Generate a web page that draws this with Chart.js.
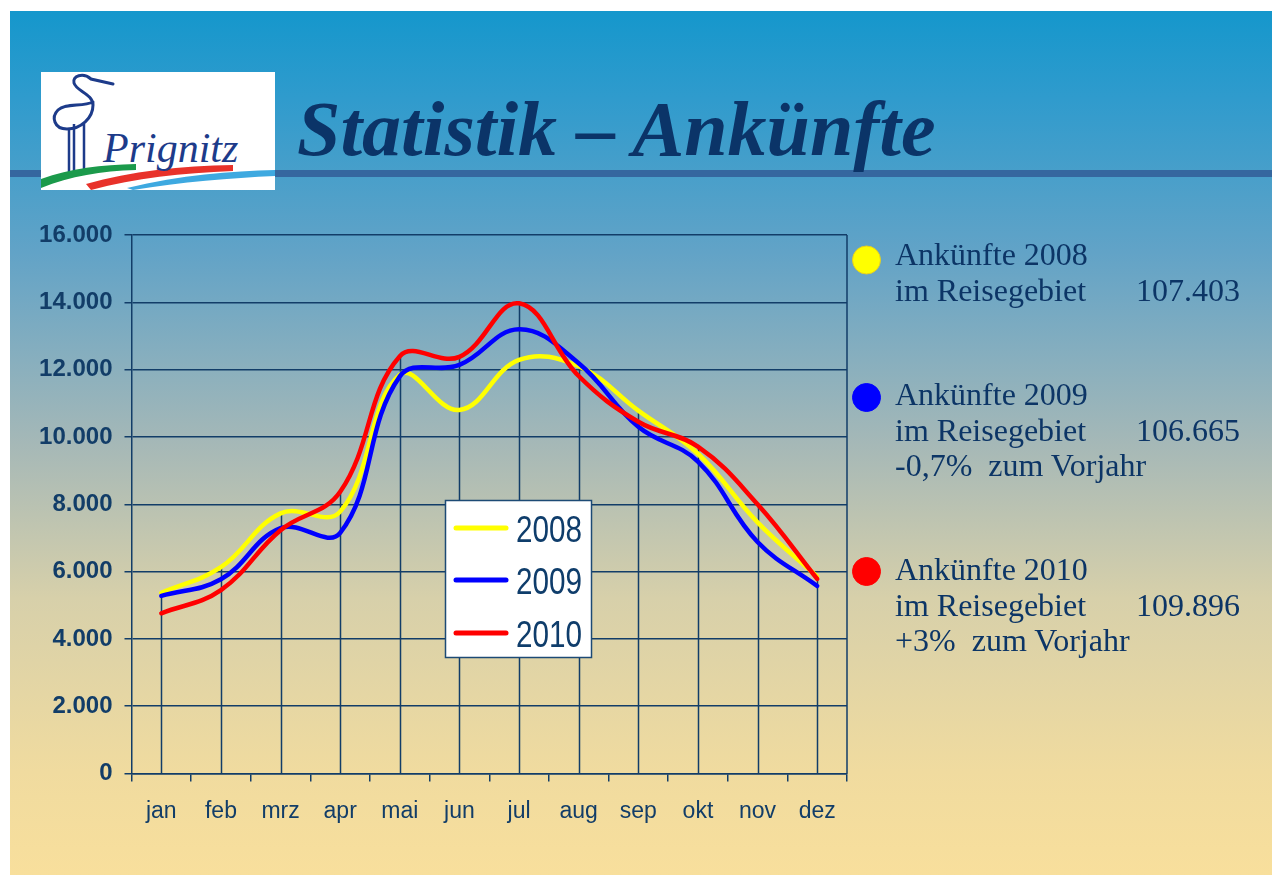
<!DOCTYPE html>
<html>
<head>
<meta charset="utf-8">
<script src="https://cdn.jsdelivr.net/npm/chart.js@4.4.1/dist/chart.umd.min.js"></script>
<style>
  html, body { margin: 0; padding: 0; background: #ffffff; }
  body { width: 1272px; height: 875px; position: relative; overflow: hidden; }
  #slide {
    position: absolute; left: 10px; top: 11px; width: 1262px; height: 864px;
    background: linear-gradient(to bottom,
      #1597cc 0%, #2f9bcd 10%, #62a3c7 28%, #a5b8b7 50%, #d7d0aa 68%, #f0db9f 88%, #f8df9c 100%);
  }
  #band { position: absolute; left: 10px; top: 170px; width: 1262px; height: 7px; background: #35679f; }
  #chartCanvas { position: absolute; left: 0; top: 0; }
  #overlay { position: absolute; left: 0; top: 0; pointer-events: none; }
</style>
</head>
<body>
<div id="slide"></div>
<div id="band"></div>
<canvas id="chartCanvas" width="1272" height="875"></canvas>
<svg id="overlay" width="1272" height="875" xmlns="http://www.w3.org/2000/svg"></svg>
<script>
// ---------- data ----------
const months = ['jan','feb','mrz','apr','mai','jun','jul','aug','sep','okt','nov','dez'];
const seriesNames = ['2008','2009','2010'];
const arrivals2008 = [5370, 6130, 7730, 7780, 11850, 10800, 12290, 12100, 10780, 9500, 7460, 5850];
const arrivals2009 = [5280, 5770, 7290, 7150, 11800, 12140, 13200, 12190, 10300, 9270, 6880, 5570];
const arrivals2010 = [4760, 5450, 7230, 8370, 12400, 12380, 13970, 11810, 10450, 9710, 8000, 5780];
const yTickValues = [0, 2000, 4000, 6000, 8000, 10000, 12000, 14000, 16000];
const yTickLabels = ['0', '2.000', '4.000', '6.000', '8.000', '10.000', '12.000', '14.000', '16.000'];
const panelTitles = ['Ankünfte 2008', 'Ankünfte 2009', 'Ankünfte 2010'];
const panelTotals = ['107.403', '106.665', '109.896'];
const panelChanges = ['', '-0,7%  zum Vorjahr', '+3%  zum Vorjahr'];
const titleText = 'Statistik – Ankünfte';

// ---------- styles ----------
const navy = '#123d68';
const seriesColors = ['#ffff00', '#0000ff', '#ff0000'];

const dropLines = {
  id: 'dropLines',
  beforeDatasetsDraw(chart) {
    const { ctx, chartArea, scales } = chart;
    const x = scales.x, y = scales.y;
    ctx.save();
    ctx.strokeStyle = navy;
    ctx.lineWidth = 1.5;
    months.forEach((m, i) => {
      const maxV = Math.max(...chart.data.datasets.map(d => d.data[i]));
      const px = Math.round(x.getPixelForValue(i)) + 0.5;
      ctx.beginPath();
      ctx.moveTo(px, y.getPixelForValue(maxV));
      ctx.lineTo(px, chartArea.bottom);
      ctx.stroke();
    });
    ctx.beginPath();
    ctx.moveTo(chartArea.right, chartArea.top);
    ctx.lineTo(chartArea.right, chartArea.bottom);
    ctx.stroke();
    ctx.restore();
  }
};

const chart = new Chart(document.getElementById('chartCanvas'), {
  type: 'line',
  data: {
    labels: months,
    datasets: [
      { label: seriesNames[0], data: arrivals2008, borderColor: seriesColors[0], order: 2 },
      { label: seriesNames[1], data: arrivals2009, borderColor: seriesColors[1], order: 1 },
      { label: seriesNames[2], data: arrivals2010, borderColor: seriesColors[2], order: 0 }
    ]
  },
  options: {
    responsive: false,
    animation: false,
    devicePixelRatio: 1,
    layout: { padding: { left: 0, top: 235, right: 425, bottom: 41.5 } },
    plugins: { legend: { display: false }, tooltip: { enabled: false } },
    elements: {
      point: { radius: 0, hoverRadius: 0 },
      line: { borderWidth: 4.5, tension: 0.4, fill: false, borderCapStyle: 'round', borderJoinStyle: 'round' }
    },
    scales: {
      x: {
        offset: true,
        grid: { offset: true, drawOnChartArea: false, drawTicks: true, tickLength: 8, color: navy, lineWidth: 1.5 },
        border: { color: navy, width: 1.5 },
        ticks: { color: navy, font: { family: '"Liberation Sans", Arial, sans-serif', size: 23 }, padding: 16, maxRotation: 0, autoSkip: false },
        afterFit(s) { s.height = 60; }
      },
      y: {
        min: 0, max: 16000,
        afterBuildTicks(s) { s.ticks = yTickValues.map(v => ({ value: v })); },
        grid: { color: navy, lineWidth: 1.5, tickLength: 7 },
        border: { color: navy, width: 1.5 },
        ticks: {
          color: navy,
          font: { family: '"Liberation Sans", Arial, sans-serif', size: 24, weight: 'bold' },
          padding: 12,
          callback: (v, i) => yTickLabels[i]
        },
        afterFit(s) { s.width = 131.5; }
      }
    }
  },
  plugins: [dropLines]
});

// ---------- overlay (title, logo, legend, side panel) ----------
const NS = 'http://www.w3.org/2000/svg';
const svg = document.getElementById('overlay');
function el(tag, attrs, text, parent) {
  const e = document.createElementNS(NS, tag);
  for (const k in attrs) e.setAttribute(k, attrs[k]);
  if (text !== undefined && text !== null) e.textContent = text;
  (parent || svg).appendChild(e);
  return e;
}

// logo
const logo = el('g', { transform: 'translate(41,72)' });
el('rect', { x: 0, y: 0, width: 234, height: 118, fill: '#ffffff' }, null, logo);
el('path', { d: 'M 72,12 L 50,7 C 42,0 31,4 33,11 C 35,19 52,22 52,33 C 52,46 40,57 26,57 C 13,57 10,45 17,38 C 24,31 42,35 52,30',
  fill: 'none', stroke: '#1d3b8a', 'stroke-width': 3, 'stroke-linecap': 'round' }, null, logo);
el('path', { d: 'M 33,52 L 33,100 M 43,52 L 43,100 M 28,58 L 28,100', fill: 'none', stroke: '#1d3b8a', 'stroke-width': 2.5 }, null, logo);
el('path', { d: 'M 0,107 C 30,96 60,93 95,92 L 95,98 C 60,99 30,104 0,116 Z', fill: '#1b9a4b' }, null, logo);
el('path', { d: 'M 45,112 C 90,99 140,94 192,93 L 192,99 C 140,101 95,106 50,118 Z', fill: '#e8322a' }, null, logo);
el('path', { d: 'M 86,116 C 140,103 190,99 234,98 L 234,104 C 190,106 140,110 92,118 Z', fill: '#3ea9e0' }, null, logo);
el('text', { x: 62, y: 90, 'font-family': '"Liberation Serif", serif', 'font-style': 'italic', 'font-size': 42, fill: '#1d3b8a' }, 'Prignitz', logo);

// title
el('text', { x: 297, y: 155, 'font-family': '"Liberation Serif", "Times New Roman", serif', 'font-style': 'italic', 'font-weight': 'bold', 'font-size': 78, fill: '#0b3468' }, titleText);

// legend box
const lg = el('g', {});
el('rect', { x: 445.5, y: 500.5, width: 146, height: 157, fill: '#ffffff', stroke: '#1c4a75', 'stroke-width': 1.5 }, null, lg);
const legendY = [528, 580, 633];
seriesNames.forEach((name, i) => {
  el('line', { x1: 456, y1: legendY[i], x2: 506, y2: legendY[i], stroke: seriesColors[i], 'stroke-width': 5, 'stroke-linecap': 'round' }, null, lg);
  el('text', { x: 516, y: legendY[i] + 13.5, 'font-family': '"Liberation Sans", Arial, sans-serif', 'font-size': 37, fill: '#0f3d6b',
    textLength: 66, lengthAdjust: 'spacingAndGlyphs' }, name, lg);
});

// side panel
const panelTop = [265, 405, 580];
const circleY = [260, 397.5, 571.5];
const panelFont = { 'font-family': '"Liberation Serif", "Times New Roman", serif', 'font-size': 32, fill: '#0c3566' };
panelTitles.forEach((t, i) => {
  el('circle', { cx: 866.5, cy: circleY[i], r: 14, fill: seriesColors[i], stroke: i === 0 ? '#e6cf1e' : seriesColors[i], 'stroke-width': 1 });
  el('text', Object.assign({ x: 895, y: panelTop[i] }, panelFont), t);
  el('text', Object.assign({ x: 895, y: panelTop[i] + 36 }, panelFont), 'im Reisegebiet');
  el('text', Object.assign({ x: 1240, y: panelTop[i] + 36, 'text-anchor': 'end' }, panelFont), panelTotals[i]);
  if (panelChanges[i]) {
    el('text', Object.assign({ x: 895, y: panelTop[i] + 71, style: 'white-space:pre' }, panelFont), panelChanges[i]);
  }
});
</script>
</body>
</html>
